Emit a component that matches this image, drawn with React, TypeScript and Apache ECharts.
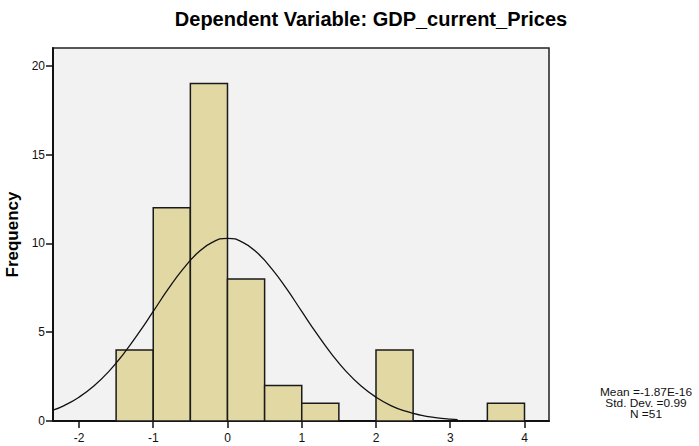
import React, { useEffect, useRef } from "react";
import * as echarts from "echarts";

const titleText = "Dependent Variable: GDP_current_Prices";
const yAxisName = "Frequency";
const binStart = [-1.5, -1, -0.5, 0, 0.5, 1, 2, 3.5];
const binEnd = [-1, -0.5, 0, 0.5, 1, 1.5, 2.5, 4];
const counts = [4, 12, 19, 8, 2, 1, 4, 1];
const curveX = [-2.35, -2.2, -2.0, -1.8, -1.6, -1.4, -1.2, -1.0, -0.8, -0.6, -0.4, -0.2, 0, 0.2, 0.4, 0.6, 0.8, 1.0, 1.2, 1.4, 1.6, 1.8, 2.0, 2.2, 2.4, 2.6, 2.8, 3.0, 3.1];
const curveY = [0.61, 0.87, 1.34, 1.97, 2.78, 3.78, 4.93, 6.17, 7.42, 8.55, 9.47, 10.07, 10.28, 10.07, 9.47, 8.55, 7.42, 6.17, 4.93, 3.78, 2.78, 1.97, 1.34, 0.87, 0.55, 0.33, 0.19, 0.1, 0.08];
const xTicks = [-2, -1, 0, 1, 2, 3, 4];
const yTicks = [0, 5, 10, 15, 20];
const statsLines = ["Mean =-1.87E-16", "Std. Dev. =0.99", "N =51"];

const FONT = "'Liberation Sans', Arial, sans-serif";

export default function App() {
  const ref = useRef<HTMLDivElement>(null);
  useEffect(() => {
    if (!ref.current) return;
    const chart = echarts.init(ref.current, null, { renderer: "svg" });
    const barData = binStart.map((s, i) => [s, binEnd[i], counts[i]]);
    const lineData = curveX.map((x, i) => [x, curveY[i]]);
    chart.setOption({
      animation: false,
      backgroundColor: "#ffffff",
      textStyle: { fontFamily: FONT },
      title: {
        text: titleText,
        left: 366,
        textAlign: "center",
        top: 4,
        textStyle: { fontFamily: FONT, fontSize: 20, fontWeight: "bold", color: "#000" },
      },
      grid: {
        left: 53,
        top: 48,
        width: 496,
        height: 373,
        outerBoundsMode: "none",
        containLabel: false,
        show: true,
        backgroundColor: "#f2f2f2",
        borderColor: "#222",
        borderWidth: 1.5,
      },
      xAxis: {
        type: "value",
        min: -2.35,
        max: 4.33,
        axisLine: { show: true, onZero: false, lineStyle: { color: "#111", width: 2 } },
        axisTick: { show: true, customValues: xTicks, length: 7, lineStyle: { color: "#111", width: 1.5 } },
        axisLabel: {
          customValues: xTicks,
          color: "#111",
          fontSize: 12,
          fontFamily: FONT,
          margin: 11,
          formatter: (v: number) => String(v),
        },
        splitLine: { show: false },
      },
      yAxis: {
        type: "value",
        min: 0,
        max: 21,
        name: yAxisName,
        nameLocation: "middle",
        nameGap: 26,
        nameTextStyle: { fontFamily: FONT, fontSize: 17, fontWeight: "bold", color: "#000" },
        axisLine: { show: true, onZero: false, lineStyle: { color: "#111", width: 2 } },
        axisTick: { show: true, customValues: yTicks, length: 7, lineStyle: { color: "#111", width: 1.5 } },
        axisLabel: {
          customValues: yTicks,
          color: "#111",
          fontSize: 12,
          fontFamily: FONT,
          margin: 8,
        },
        splitLine: { show: false },
      },
      graphic: [
        {
          type: "text",
          x: 646,
          y: 387,
          scaleX: 1.08,
          style: {
            text: statsLines.join("\n"),
            font: `11px ${FONT}`,
            fill: "#111",
            align: "center",
            verticalAlign: "top",
            lineHeight: 11,
          },
        },
      ],
      series: [
        {
          type: "custom",
          encode: { x: [0, 1], y: 2 },
          data: barData,
          z: 2,
          renderItem: (params: any, api: any) => {
            const x0 = api.value(0);
            const x1 = api.value(1);
            const y = api.value(2);
            const p0 = api.coord([x0, y]);
            const p1 = api.coord([x1, 0]);
            return {
              type: "rect",
              shape: { x: p0[0], y: p0[1], width: p1[0] - p0[0], height: p1[1] - p0[1] },
              style: { fill: "#e2d8a4", stroke: "#1a1a1a", lineWidth: 1.5 },
            };
          },
        },
        {
          type: "line",
          data: lineData,
          showSymbol: false,
          smooth: true,
          z: 5,
          lineStyle: { color: "#111", width: 1.3 },
        },
      ],
    });
    return () => chart.dispose();
  }, []);
  return (
    <div
      ref={ref}
      style={{ position: "fixed", left: 0, top: 0, width: 699, height: 446 }}
    />
  );
}
